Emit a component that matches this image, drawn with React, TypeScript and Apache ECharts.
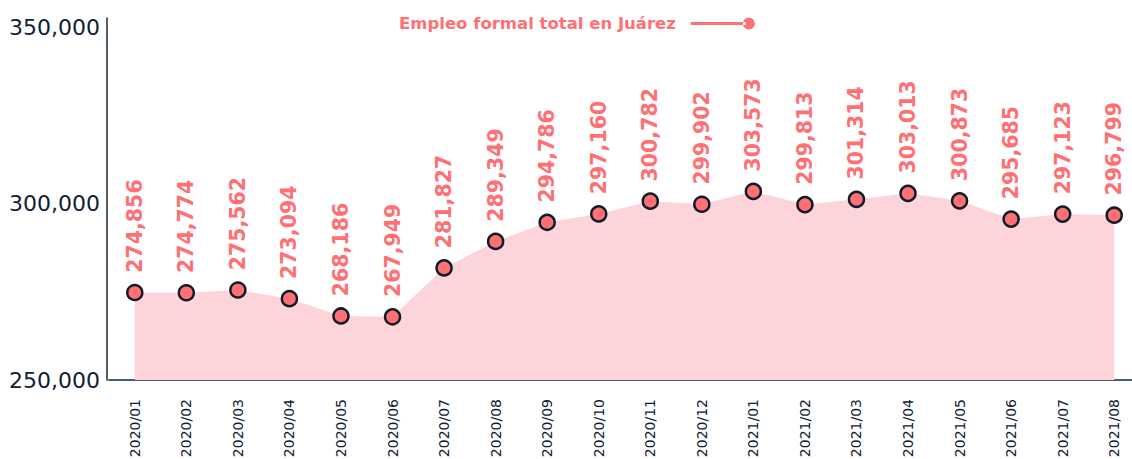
import React, { useEffect, useRef } from "react";
import * as echarts from "echarts";

const categories = [
  "2020/01", "2020/02", "2020/03", "2020/04", "2020/05", "2020/06", "2020/07",
  "2020/08", "2020/09", "2020/10", "2020/11", "2020/12", "2021/01", "2021/02",
  "2021/03", "2021/04", "2021/05", "2021/06", "2021/07", "2021/08",
];

const empleo = [
  274856, 274774, 275562, 273094, 268186, 267949, 281827, 289349, 294786, 297160,
  300782, 299902, 303573, 299813, 301314, 303013, 300873, 295685, 297123, 296799,
];

const seriesName = "Empleo formal total en Juárez";
const yMin = 250000;
const yMax = 352800;
const yInterval = 50000;

const CORAL = "#ff7075";
const DARK = "#0f2233";

export default function App() {
  const ref = useRef<HTMLDivElement>(null);
  useEffect(() => {
    if (!ref.current) return;
    const chart = echarts.init(ref.current, undefined, { renderer: "svg" });
    chart.setOption({
      animation: false,
      backgroundColor: "#ffffff",
      legend: {
        left: 394,
        top: 10,
        align: "right",
        itemWidth: 64,
        itemHeight: 12,
        icon: "path://M0,4.5 L55,4.5 L55,7.5 L0,7.5 Z M52,6 a6,6 0 1,0 12,0 a6,6 0 1,0 -12,0 Z",
        itemStyle: { color: CORAL, borderWidth: 0 },
        textStyle: {
          color: CORAL,
          fontFamily: "DejaVu Sans",
          fontWeight: "bold",
          fontSize: 16.5,
          padding: [0, 10, 0, 0],
        },
        data: [seriesName],
      },
      grid: {
        left: 109,
        top: 18,
        right: -8,
        bottom: 79,
        containLabel: false,
        outerBoundsMode: "none",
      },
      xAxis: {
        type: "category",
        data: categories,
        boundaryGap: true,
        axisLine: { show: true, lineStyle: { color: "#4a5d68", width: 2 } },
        axisTick: { show: false },
        axisLabel: {
          rotate: 90,
          margin: 19,
          color: DARK,
          fontFamily: "DejaVu Sans",
          fontSize: 14,
          interval: 0,
        },
      },
      yAxis: {
        type: "value",
        min: yMin,
        max: yMax,
        interval: yInterval,
        offset: 2,
        splitLine: { show: false },
        axisTick: { show: false },
        axisLine: { show: true, lineStyle: { color: "#1c2c38", width: 1.5 } },
        axisLabel: {
          showMaxLabel: false,
          margin: 7,
          color: DARK,
          fontFamily: "DejaVu Sans",
          fontSize: 22,
          formatter: (v: number) => v.toLocaleString("en-US"),
        },
      },
      series: [
        {
          name: seriesName,
          type: "line",
          data: empleo,
          symbol: "circle",
          symbolSize: 15,
          itemStyle: { color: CORAL, borderColor: "#0e1d29", borderWidth: 2.5 },
          lineStyle: { width: 0, opacity: 0 },
          areaStyle: { color: "#fcd4d9", opacity: 1 },
          label: {
            show: true,
            position: "top",
            distance: 11,
            rotate: 90,
            align: "left",
            verticalAlign: "middle",
            color: CORAL,
            fontFamily: "DejaVu Sans",
            fontWeight: "bold",
            fontSize: 20.5,
            formatter: (p: any) => Number(p.value).toLocaleString("en-US"),
          },
        },
      ],
    });
    return () => chart.dispose();
  }, []);
  return (
    <div
      ref={ref}
      style={{ position: "fixed", left: 0, top: 0, width: 1132, height: 459 }}
    />
  );
}
